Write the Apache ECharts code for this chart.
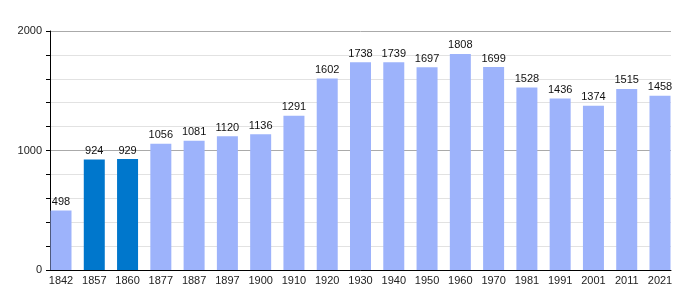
<!DOCTYPE html>
<html><head><meta charset="utf-8">
<script src="https://cdn.jsdelivr.net/npm/echarts@6/dist/echarts.min.js"></script>
<style>html,body{margin:0;padding:0;background:#fff}#c{width:700px;height:300px}</style>
</head><body><div id="c"></div>
<script>
const years = ['1842','1857','1860','1877','1887','1897','1900','1910','1920','1930','1940','1950','1960','1970','1981','1991','2001','2011','2021'];
const population = [498,924,929,1056,1081,1120,1136,1291,1602,1738,1739,1697,1808,1699,1528,1436,1374,1515,1458];
const highlighted = ['1857','1860'];
const yTickLabels = ['0','1000','2000'];

const font = 'Liberation Sans, Arial, sans-serif';
const chart = echarts.init(document.getElementById('c'), null, {renderer:'canvas'});
chart.setOption({
  animation:false,
  backgroundColor:'#fff',
  grid:[
    {left:50,right:29,top:31,bottom:30,containLabel:false},
    {left:61,right:40,top:31,bottom:30,containLabel:false}
  ],
  xAxis:[
    {gridIndex:0,type:'value',min:0,max:1,
      axisLine:{show:true,onZero:false,lineStyle:{color:'#000',width:1}},
      axisTick:{show:false},axisLabel:{show:false},splitLine:{show:false}},
    {gridIndex:1,type:'category',data:years,boundaryGap:false,
      axisLine:{show:false},axisTick:{show:false},splitLine:{show:false},
      axisLabel:{color:'#222',fontSize:11,fontFamily:font,margin:5}}
  ],
  yAxis:[
    {gridIndex:0,type:'value',min:0,max:2000,interval:200,
      axisLine:{show:true,lineStyle:{color:'#000'}},
      axisTick:{show:true,length:4,lineStyle:{color:'#000'}},
      axisLabel:{color:'#222',fontSize:11,fontFamily:font,margin:8,
        formatter:v=>yTickLabels.includes(String(v))?String(v):''},
      splitLine:{show:true,lineStyle:{color:['#aaa','#e2e2e2','#e2e2e2','#e2e2e2','#e2e2e2'],width:1}}},
    {gridIndex:1,type:'value',min:0,max:2000,show:false,splitLine:{show:false}}
  ],
  series:[{type:'bar',xAxisIndex:1,yAxisIndex:1,barWidth:21,
    data:population.map((v,i)=>({value:v,itemStyle:{color:highlighted.includes(years[i])?'#0077cc':'#9db3fb'}})),
    label:{show:true,position:'top',distance:3,color:'#111',fontSize:11,fontFamily:font}}]
});
</script></body></html>
